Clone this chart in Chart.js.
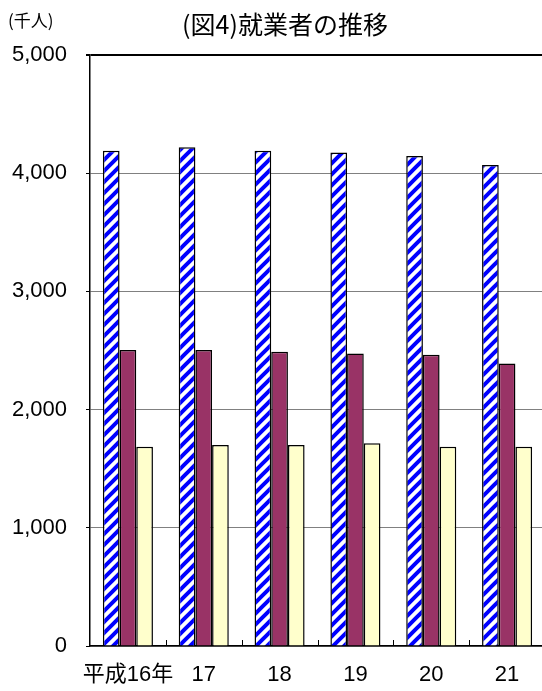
<!DOCTYPE html>
<html>
<head>
<meta charset="utf-8">
<script src="https://cdn.jsdelivr.net/npm/chart.js@4/dist/chart.umd.min.js"></script>
<style>
  html, body { margin: 0; padding: 0; background: #fff; overflow: hidden; }
  #wrap { width: 545px; height: 691px; }
</style>
</head>
<body>
<div id="wrap"><canvas id="chart" width="545" height="691"></canvas></div>
<script>
const years = ['平成16年', '17', '18', '19', '20', '21'];
const totalWorkers = [4190, 4220, 4190, 4175, 4145, 4070];
const maleWorkers = [2505, 2505, 2490, 2475, 2465, 2390];
const femaleWorkers = [1685, 1700, 1700, 1715, 1685, 1685];
const yTicks = [0, 1000, 2000, 3000, 4000, 5000];

const titleText = '(図4)就業者の推移';
const unitText = '(千人)';

function makeHatch() {
  const s = 11;
  const c = document.createElement('canvas');
  c.width = s;
  c.height = s;
  const g = c.getContext('2d');
  g.fillStyle = '#ffffff';
  g.fillRect(0, 0, s, s);
  g.strokeStyle = '#0000ff';
  g.lineWidth = 4;
  g.beginPath();
  g.moveTo(0, s); g.lineTo(s, 0);
  g.moveTo(-s / 2, s / 2); g.lineTo(s / 2, -s / 2);
  g.moveTo(s / 2, s * 1.5); g.lineTo(s * 1.5, s / 2);
  g.stroke();
  return g.createPattern(c, 'repeat');
}

// title, unit label and the small category ticks on the inside of the x axis
const decorations = {
  id: 'decorations',
  afterDraw(chart) {
    const { ctx, chartArea, scales } = chart;
    ctx.save();
    ctx.fillStyle = '#000';
    ctx.textBaseline = 'middle';
    ctx.textAlign = 'center';
    ctx.font = '25px "Noto Sans CJK JP", sans-serif';
    ctx.fillText(titleText, 285, 24);
    ctx.textAlign = 'left';
    ctx.font = '17px "Noto Sans CJK JP", sans-serif';
    ctx.fillText(unitText, 8, 21);

    const x = scales.x;
    const half = (x.getPixelForTick(1) - x.getPixelForTick(0)) / 2;
    ctx.strokeStyle = '#000';
    ctx.lineWidth = 1;
    ctx.beginPath();
    for (let i = 0; i < years.length; i++) {
      const px = Math.round(x.getPixelForTick(i) + half) + 0.5;
      ctx.moveTo(px, chartArea.bottom);
      ctx.lineTo(px, chartArea.bottom - 6);
    }
    ctx.stroke();
    ctx.restore();
  }
};

const canvas = document.getElementById('chart');

new Chart(canvas, {
  type: 'bar',
  data: {
    labels: years,
    datasets: [
      {
        label: '総数',
        data: totalWorkers,
        backgroundColor: makeHatch(),
        borderColor: '#000',
        borderWidth: 1.5,
      },
      {
        label: '男',
        data: maleWorkers,
        backgroundColor: '#993366',
        borderColor: '#000',
        borderWidth: 1.5,
      },
      {
        label: '女',
        data: femaleWorkers,
        backgroundColor: '#ffffcc',
        borderColor: '#000',
        borderWidth: 1.5,
      },
    ],
  },
  options: {
    responsive: false,
    animation: false,
    events: [],
    datasets: {
      bar: { categoryPercentage: 0.66, barPercentage: 1.0 },
    },
    layout: { padding: { top: 55, right: 0, bottom: 0, left: 0 } },
    plugins: {
      legend: { display: false },
      title: { display: false },
      tooltip: { enabled: false },
    },
    scales: {
      x: {
        afterFit(scale) { scale.height = 45; },
        grid: { display: false },
        border: { color: '#000', width: 1.5 },
        ticks: {
          color: '#000',
          padding: 8,
          autoSkip: false,
          maxRotation: 0,
          minRotation: 0,
          font: { family: '"Liberation Sans", "Noto Sans CJK JP", sans-serif', size: 22 },
        },
      },
      y: {
        min: 0,
        max: 5000,
        afterFit(scale) { scale.width = 90; },
        afterBuildTicks(scale) { scale.ticks = yTicks.map(v => ({ value: v })); },
        grid: {
          color: ctx => (ctx.tick && ctx.tick.value === 5000 ? '#000' : '#808080'),
          lineWidth: ctx => (ctx.tick && ctx.tick.value === 5000 ? 2 : 1),
          tickColor: '#000',
          tickLength: 4,
        },
        border: { color: '#000', width: 1.5 },
        ticks: {
          color: '#000',
          padding: 19,
          font: { family: '"Liberation Sans", sans-serif', size: 22 },
          callback: v => v.toLocaleString('en-US'),
        },
      },
    },
  },
  plugins: [decorations],
});
</script>
</body>
</html>
